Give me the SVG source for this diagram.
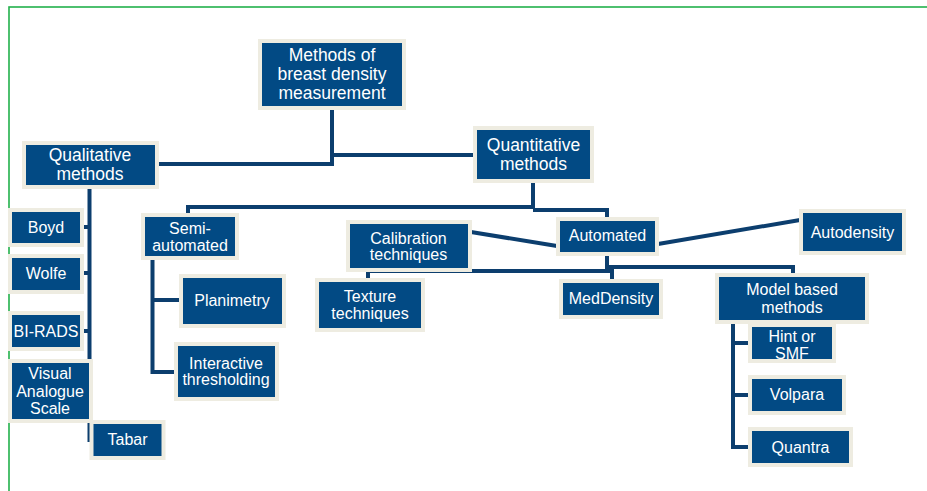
<svg xmlns="http://www.w3.org/2000/svg" width="927" height="491" viewBox="0 0 927 491">
<style>
.frame{fill:none;stroke:#22b14c;stroke-width:1.6}
.n rect{fill:#024a84;stroke:#eeece1;stroke-width:4}
.n text{fill:#ffffff;font-family:"Liberation Sans",Arial,sans-serif;font-size:16px;text-anchor:middle}
.n.big text{font-size:17.5px}
.c path{fill:none;stroke:#0c3e6e;stroke-width:4;stroke-linejoin:miter}
</style>
<rect width="927" height="491" fill="#ffffff"/>
<rect class="frame" x="9" y="7" width="940" height="500"/>
<g class="c" id="connectors">
<path d="M332,110 V164 H157"/>
<path d="M332,155 H475"/>
<path d="M89.5,189 V442"/>
<path d="M82,227 H90"/>
<path d="M82,273 H90"/>
<path d="M82,331 H90"/>
<path d="M533,183 V207 H188 V215"/>
<path d="M533,210 H607 V218"/>
<path d="M152.5,260 V372 H176"/>
<path d="M152.5,300 H181"/>
<path d="M607,255 V271"/>
<path d="M368,279 V271 H612 V281"/>
<path d="M607,267 H793 V275"/>
<path d="M471,232 L557,246"/>
<path d="M658,244 L800,220"/>
<path d="M733,323 V447 H749"/>
<path d="M733,343 H749"/>
<path d="M733,395 H749"/>
</g>
<g class="n big" id="root"><rect x="260" y="41" width="144" height="67"/><text x="332" y="61">Methods of</text><text x="332" y="80">breast density</text><text x="332" y="99">measurement</text></g>
<g class="n big" id="quantitative"><rect x="475" y="128" width="117" height="53"/><text x="533.5" y="151">Quantitative</text><text x="533.5" y="170">methods</text></g>
<g class="n big" id="qualitative"><rect x="24" y="143" width="133" height="44"/><text x="90" y="161">Qualitative</text><text x="90" y="180">methods</text></g>
<g class="n" id="boyd"><rect x="10" y="210" width="72" height="35"/><text x="46" y="232.5">Boyd</text></g>
<g class="n" id="wolfe"><rect x="10" y="256" width="72" height="36"/><text x="46" y="279">Wolfe</text></g>
<g class="n" id="birads"><rect x="10" y="313" width="72" height="36"/><text x="46" y="336.5">BI-RADS</text></g>
<g class="n" id="vas"><rect x="10" y="361" width="81" height="60"/><text x="50" y="379">Visual</text><text x="50" y="396.5">Analogue</text><text x="50" y="414">Scale</text></g>
<g class="n" id="tabar"><rect x="91.5" y="422" width="72" height="36"/><text x="127.5" y="445">Tabar</text></g>
<g class="n" id="semi"><rect x="143" y="215" width="94" height="43"/><text x="190" y="233.5">Semi-</text><text x="190" y="251">automated</text></g>
<g class="n" id="planimetry"><rect x="181" y="276" width="103" height="50"/><text x="232" y="306">Planimetry</text></g>
<g class="n" id="interactive"><rect x="176" y="344" width="101" height="55"/><text x="226" y="368.5">Interactive</text><text x="226" y="385">thresholding</text></g>
<g class="n" id="calibration"><rect x="348" y="222" width="122" height="48"/><text x="408.5" y="243.5">Calibration</text><text x="408.5" y="260">techniques</text></g>
<g class="n" id="automated"><rect x="558" y="219" width="99" height="35"/><text x="607.5" y="241">Automated</text></g>
<g class="n" id="autodensity"><rect x="801" y="211" width="103" height="42"/><text x="852.5" y="238">Autodensity</text></g>
<g class="n" id="texture"><rect x="317" y="280" width="106" height="50"/><text x="370" y="302">Texture</text><text x="370" y="318.5">techniques</text></g>
<g class="n" id="meddensity"><rect x="561" y="281" width="100" height="36"/><text x="611" y="304">MedDensity</text></g>
<g class="n" id="model"><rect x="717" y="275" width="150" height="47"/><text x="792" y="295">Model based</text><text x="792" y="313">methods</text></g>
<g class="n" id="hint"><rect x="750" y="325" width="84" height="36"/><text x="792" y="341.5">Hint or</text><text x="792" y="358.5">SMF</text></g>
<g class="n" id="volpara"><rect x="750" y="377" width="94" height="36"/><text x="797" y="400">Volpara</text></g>
<g class="n" id="quantra"><rect x="750" y="429" width="101" height="36"/><text x="800.5" y="452.5">Quantra</text></g>
</svg>
